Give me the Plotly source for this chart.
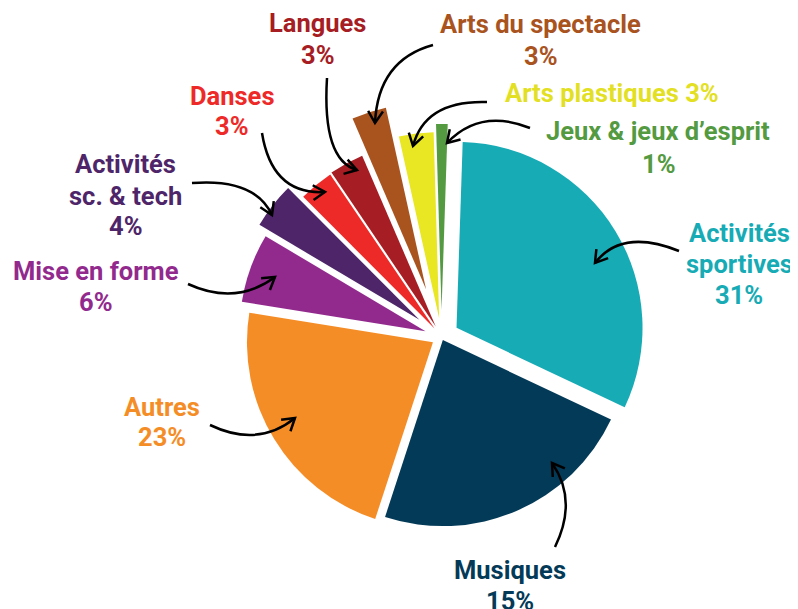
"""Répartition des activités - camembert éclaté avec étiquettes et flèches."""

import plotly.graph_objects as go

# the page body keeps an 8px margin, so the figure is drawn from (8, 8)
OFF = 8
W, H = 798 - OFF, 609 - OFF

categories = [
    "Activités sportives", "Musiques", "Autres", "Mise en forme",
    "Activités sc. & tech", "Danses", "Langues", "Arts du spectacle",
    "Arts plastiques", "Jeux & jeux d'esprit",
]
values = [31.5, 23, 22.5, 6, 4, 3, 3, 3, 3, 1]
pct_labels = ["31%", "15%", "23%", "6%", "4%", "3%", "3%", "3%", "3%", "1%"]
name_lines = [
    ["Activités", "sportives"], ["Musiques"], ["Autres"], ["Mise en forme"],
    ["Activités", "sc. & tech"], ["Danses"], ["Langues"],
    ["Arts du spectacle"], [], ["Jeux & jeux d’esprit"],
]
colors = [
    "#17abb5", "#033a57", "#f58d27", "#922a8e", "#4e2569",
    "#ee2a28", "#a61d23", "#a9531f", "#e9e623", "#539a41",
]
pulls_px = [17.6, 3.4, 10, 17, 28, 11, 12, 50, 19, 27]

# pie geometry (page pixels)
CX, CY, R = 441.5, 337, 186
pull = [p / R for p in pulls_px]
half = R * (1 + max(pull))


def px(x):
    return (x - OFF) / W


def py(y):
    return 1 - (y - OFF) / H


fig = go.Figure(
    go.Pie(
        labels=categories,
        values=values,
        sort=False,
        direction="clockwise",
        rotation=1.9,
        pull=pull,
        marker=dict(colors=colors, line=dict(width=0)),
        textinfo="none",
        hoverinfo="label+percent",
        domain=dict(
            x=[px(CX - half), px(CX + half)],
            y=[py(CY + half), py(CY - half)],
        ),
    )
)

# label block: centre x and the y of each line (page pixels)
label_x = [739, 510, 162, 95.5, 125, 231.5, 317, 540, 612, 658]
label_y = [
    [233, 264, 295], [570, 601], [407, 437], [271, 302], [164, 196, 226],
    [96, 126], [23, 55], [24, 56], [93], [131, 164],
]
label_colors = colors[:8] + ["#e3df22", colors[9]]

for i, c in enumerate(label_colors):
    lines = name_lines[i] + [pct_labels[i]]
    if not name_lines[i]:
        lines = [f"{categories[i]} {pct_labels[i]}"]
    for txt, y in zip(lines, label_y[i]):
        fig.add_annotation(
            x=px(label_x[i]), y=py(y), xref="paper", yref="paper",
            text=f"<b>{txt}</b>", showarrow=False,
            xanchor="center", yanchor="middle", align="center",
            font=dict(family="Roboto", size=25.5, color=c),
        )

# curved arrows: start, control, tip (page pixels)
arrows = [
    ((679, 251), (622, 228), (595, 263)),
    ((555, 547), (578, 500), (552, 463)),
    ((210, 425), (258, 448), (295, 418)),
    ((188, 284), (236, 306), (275, 277)),
    ((192, 183), (255, 178), (272, 215)),
    ((262, 133), (272, 195), (325, 192)),
    ((327, 78), (322, 160), (357, 170)),
    ((433, 45), (378, 60), (375, 123)),
    ((487, 102), (425, 100), (413, 146)),
    ((530, 128), (480, 108), (447, 143)),
]

HEAD = 14
for (x0, y0), (qx, qy), (x1, y1) in arrows:
    fig.add_shape(
        type="path", xref="paper", yref="paper",
        path=f"M {px(x0)} {py(y0)} Q {px(qx)} {py(qy)} {px(x1)} {py(y1)}",
        line=dict(color="black", width=2.5),
    )
    dx, dy = x1 - qx, y1 - qy
    n = (dx * dx + dy * dy) ** 0.5
    ux, uy = dx / n, dy / n
    pts = []
    for s in (1, -1):
        # rotate back direction by +-32 degrees
        cs, sn = 0.848, 0.530 * s
        bx = -(ux * cs - uy * sn)
        by = -(ux * sn + uy * cs)
        pts.append((x1 + HEAD * bx, y1 + HEAD * by))
    (ax, ay), (bx2, by2) = pts
    fig.add_shape(
        type="path", xref="paper", yref="paper",
        path=(f"M {px(ax)} {py(ay)} L {px(x1)} {py(y1)} "
              f"L {px(bx2)} {py(by2)}"),
        line=dict(color="black", width=2.5),
    )

fig.update_layout(
    width=W,
    height=H,
    margin=dict(l=0, r=0, t=0, b=0),
    showlegend=False,
    paper_bgcolor="white",
    plot_bgcolor="white",
    font=dict(family="Roboto"),
)

fig.write_html("out.html")
